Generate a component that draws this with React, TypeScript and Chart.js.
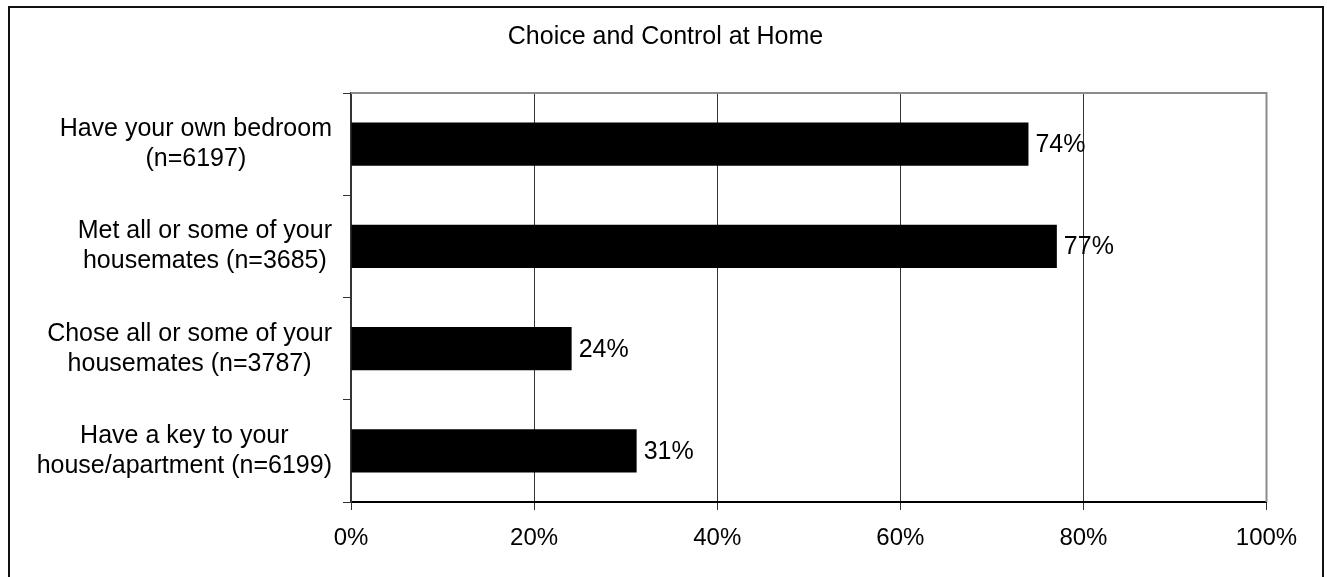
import React, { useEffect, useRef } from "react";
import { Chart, registerables } from "chart.js";

Chart.register(...registerables);

const titleText = "Choice and Control at Home";
const categories: string[][] = [
  ["Have your own bedroom", "(n=6197)"],
  ["Met all or some of your", "housemates (n=3685)"],
  ["Chose all or some of your", "housemates (n=3787)"],
  ["Have a key to your", "house/apartment (n=6199)"],
];
const values: number[] = [74.0, 77.1, 24.1, 31.2];
const valueLabels: string[] = ["74%", "77%", "24%", "31%"];
const xTickValues: number[] = [0, 20, 40, 60, 80, 100];

const FONT = "'Liberation Sans', Arial, sans-serif";

export default function App() {
  const ref = useRef<HTMLCanvasElement | null>(null);

  useEffect(() => {
    if (!ref.current) return;

    const labelsPlugin = {
      id: "customLabels",
      afterDatasetsDraw(chart: any) {
        const ctx = chart.ctx;
        const area = chart.chartArea;
        // top and right gray plot border
        ctx.save();
        ctx.strokeStyle = "#8c8c8c";
        ctx.lineWidth = 2;
        ctx.beginPath();
        ctx.moveTo(area.left, area.top);
        ctx.lineTo(area.right, area.top);
        ctx.lineTo(area.right, area.bottom);
        ctx.stroke();
        ctx.restore();

        // title, centred on the whole chart frame
        ctx.save();
        ctx.fillStyle = "#000";
        ctx.font = `25px ${FONT}`;
        ctx.textAlign = "center";
        ctx.textBaseline = "middle";
        ctx.fillText(titleText, 665.5, 37.5);
        ctx.restore();

        // data value labels
        const meta = chart.getDatasetMeta(0);
        ctx.save();
        ctx.fillStyle = "#000";
        ctx.font = `25px ${FONT}`;
        ctx.textAlign = "left";
        ctx.textBaseline = "middle";
        meta.data.forEach((el: any, i: number) => {
          ctx.fillText(valueLabels[i], el.x + 7, el.y + 1);
        });
        ctx.restore();

        // category labels: each block right-aligned, lines centered within block
        const yScale = chart.scales.y;
        ctx.save();
        ctx.fillStyle = "#000";
        ctx.font = `25px ${FONT}`;
        ctx.textAlign = "center";
        ctx.textBaseline = "middle";
        const rightEdge = area.left - 19;
        const lineH = 30;
        categories.forEach((lines, i) => {
          const cy = yScale.getPixelForValue(i);
          const w = Math.max(...lines.map((l) => ctx.measureText(l).width));
          const cx = rightEdge - w / 2;
          const startY = cy - ((lines.length - 1) * lineH) / 2;
          lines.forEach((l, j) => ctx.fillText(l, cx, startY + j * lineH));
        });
        ctx.restore();
      },
    };

    const chart = new Chart(ref.current, {
      type: "bar",
      data: {
        labels: categories.map((c) => c.join(" ")),
        datasets: [
          {
            data: values,
            backgroundColor: "#000",
            borderWidth: 0,
            barPercentage: 0.423,
            categoryPercentage: 1,
          },
        ],
      },
      options: {
        indexAxis: "y",
        responsive: false,
        animation: false,
        devicePixelRatio: 1,
        layout: { padding: { left: 0, right: 60.5, top: 93, bottom: 0 } },
        plugins: {
          legend: { display: false },
          tooltip: { enabled: false },
          title: { display: false },
        },
        scales: {
          x: {
            type: "linear",
            min: 0,
            max: 100,
            afterBuildTicks: (scale: any) => {
              scale.ticks = xTickValues.map((v) => ({ value: v }));
            },
            afterFit: (scale: any) => {
              scale.height = 75;
            },
            ticks: {
              color: "#000",
              font: { family: FONT, size: 24 },
              padding: 13.5,
              maxRotation: 0,
              callback: (v: any) => `${v}%`,
            },
            grid: {
              color: "#333",
              lineWidth: 1,
              tickLength: 8,
              drawTicks: true,
            },
            border: { color: "#000", width: 2 },
          },
          y: {
            type: "category",
            offset: true,
            afterFit: (scale: any) => {
              scale.width = 351;
            },
            ticks: { display: false },
            grid: {
              offset: true,
              drawOnChartArea: false,
              drawTicks: true,
              tickLength: 8,
              color: "#333",
              lineWidth: 1,
            },
            border: { color: "#333", width: 2 },
          },
        },
      },
      plugins: [labelsPlugin],
    });

    return () => chart.destroy();
  }, []);

  return (
    <div
      style={{
        position: "fixed",
        left: 0,
        top: 0,
        width: 1327,
        height: 577,
        overflow: "hidden",
        background: "#fff",
      }}
    >
      <div
        style={{
          position: "absolute",
          left: 8,
          top: 6,
          width: 1316,
          height: 620,
          border: "2px solid #111",
          boxSizing: "border-box",
        }}
      />
      <canvas
        ref={ref}
        width={1327}
        height={577}
        style={{ position: "absolute", left: 0, top: 0, width: 1327, height: 577 }}
      />
    </div>
  );
}
